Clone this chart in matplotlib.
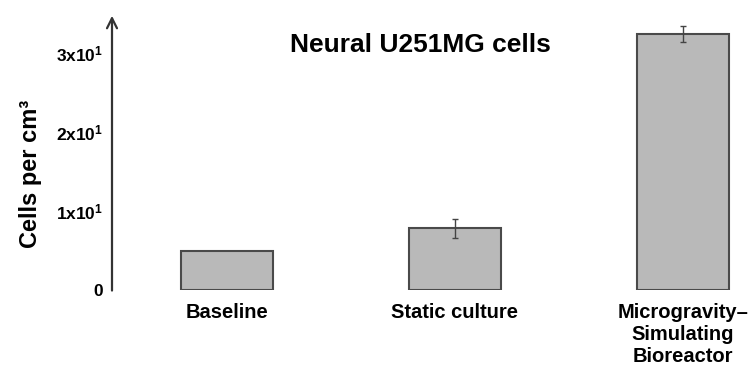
import matplotlib
matplotlib.use("Agg")
import matplotlib.pyplot as plt

categories = ["Baseline", "Static culture", "Microgravity\u2013\nSimulating\nBioreactor"]
values = [4.9, 7.8, 32.4]
errors = [0.0, 1.2, 1.0]
ytick_values = [0, 10, 20, 30]
ytick_labels = [r"$\mathbf{0}$", r"$\mathbf{1x10^1}$", r"$\mathbf{2x10^1}$", r"$\mathbf{3x10^1}$"]
title = "Neural U251MG cells"
ylabel = "Cells per cm\u00b3"

plt.rcParams['font.family'] = ['Liberation Sans', 'DejaVu Sans']
plt.rcParams['font.weight'] = 'bold'
plt.rcParams['mathtext.fontset'] = 'custom'
plt.rcParams['mathtext.bf'] = 'Liberation Sans:bold'
plt.rcParams['mathtext.rm'] = 'Liberation Sans:bold'

fig = plt.figure(figsize=(7.54, 3.67), dpi=100)
ax = fig.add_axes([112/754, 1 - 290/367, (745-112)/754, (290-13)/367])

x = list(range(len(categories)))
ax.bar(x, values, width=0.4, color="#b9b9b9", edgecolor="#4a4a4a", linewidth=1.5, zorder=2)
for xi, v, e in zip(x, values, errors):
    if e > 0:
        ax.errorbar(xi, v, yerr=e, fmt='none', ecolor="#444444", elinewidth=1.0, capsize=2, capthick=1, zorder=3)

ax.set_xlim(-0.504, (745-227)/228)
ax.set_ylim(0, 277/7.9)

for s in ["top", "right", "bottom", "left"]:
    ax.spines[s].set_visible(False)
ax.annotate("", xy=(0, 1.0), xycoords="axes fraction", xytext=(0, -0.012),
            textcoords="axes fraction",
            arrowprops=dict(arrowstyle="->", color="#333333", lw=1.6, mutation_scale=18))

ax.set_yticks(ytick_values)
ax.set_yticklabels(ytick_labels, fontsize=12.5)
ax.tick_params(axis='y', length=0, pad=6)
ax.set_xticks(x)
ax.set_xticklabels(categories, fontsize=14.5, fontweight='bold', linespacing=1.2, va='top')
ax.tick_params(axis='x', length=0, pad=9)

ax.set_ylabel(ylabel, fontsize=17, fontweight='bold')
ax.yaxis.set_label_coords(-0.111, 0.42)

fig.text(420/754, 1 - 45/367, title, fontsize=19, fontweight='bold', ha='center', va='center')

fig.savefig("out.png", dpi=100)
